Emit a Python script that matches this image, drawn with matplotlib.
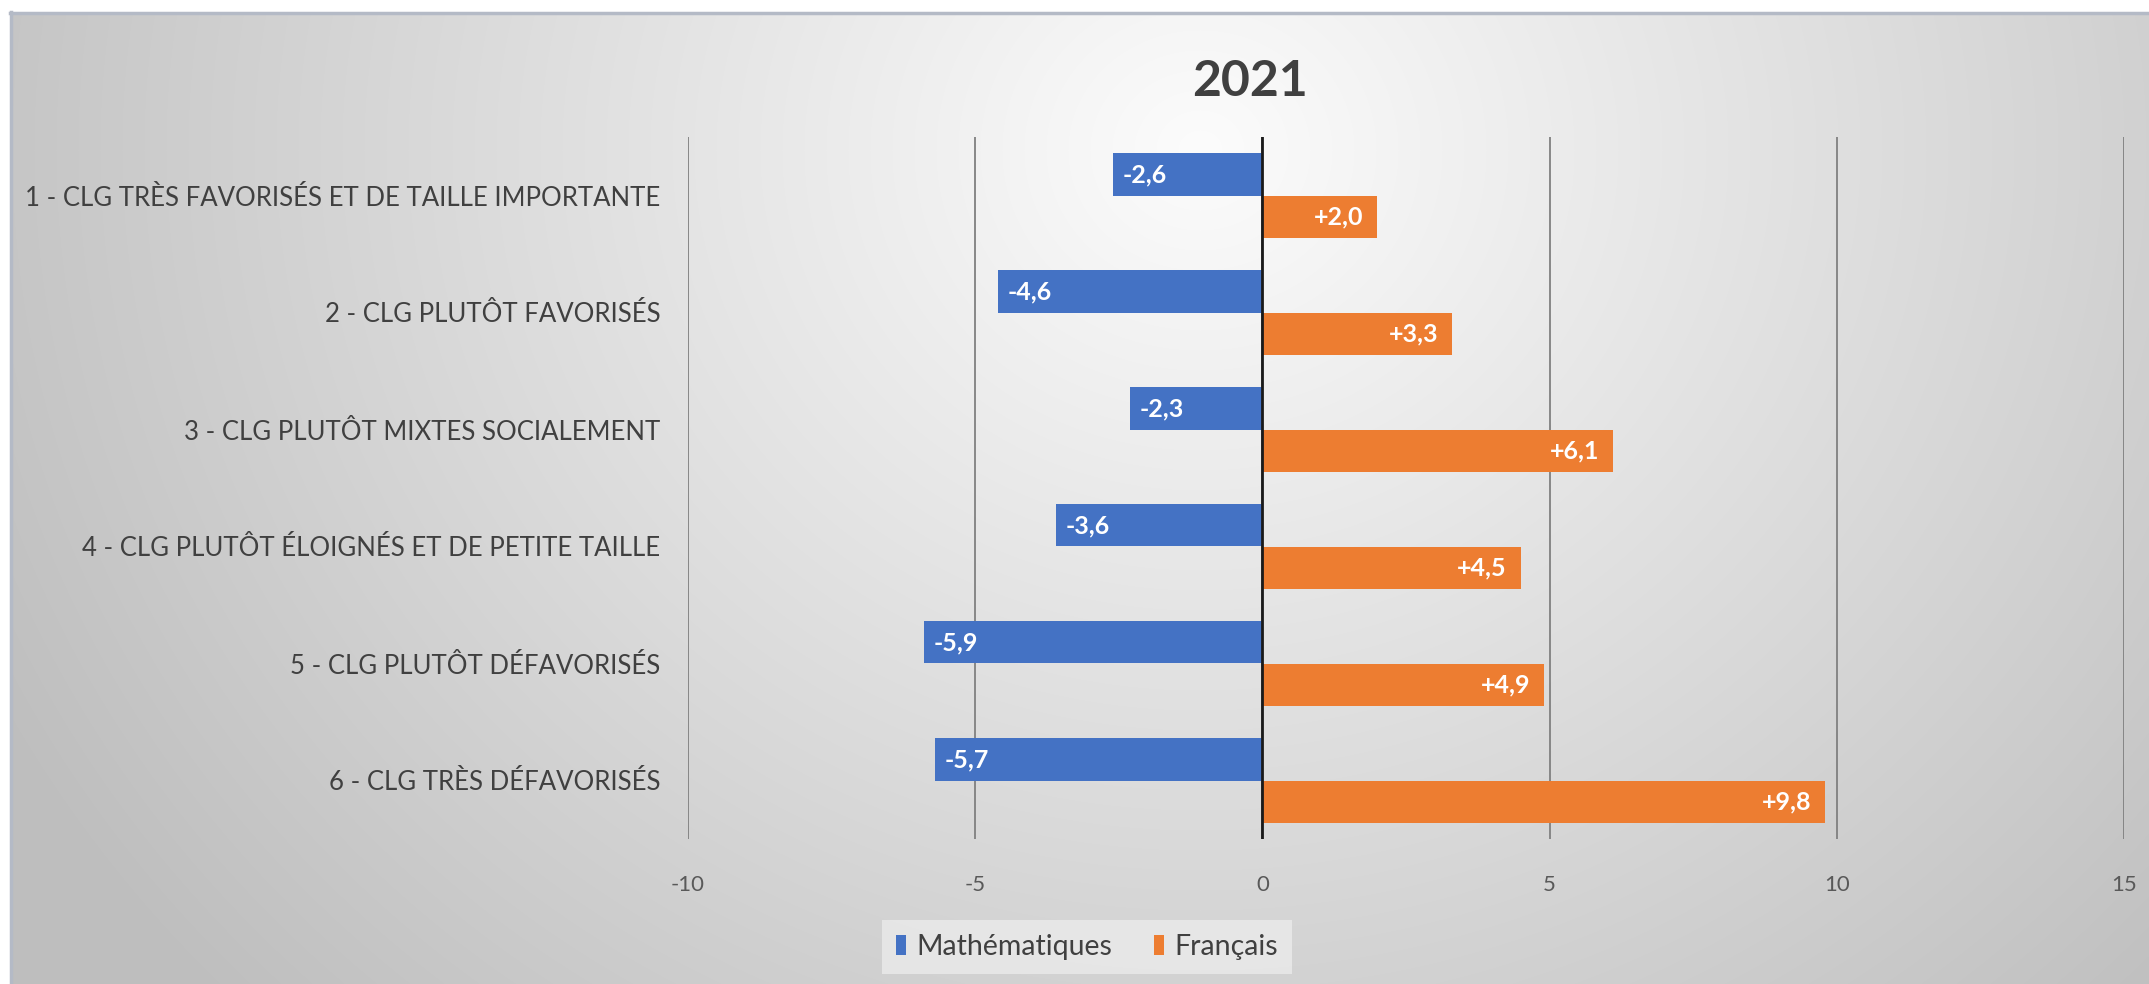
import numpy as np
import matplotlib
matplotlib.use("Agg")
import matplotlib.pyplot as plt
from matplotlib.patches import Patch

# ---- data ----
categories = [
    "1 - CLG TRÈS FAVORISÉS ET DE TAILLE IMPORTANTE",
    "2 - CLG PLUTÔT FAVORISÉS",
    "3 - CLG PLUTÔT MIXTES SOCIALEMENT",
    "4 - CLG PLUTÔT ÉLOIGNÉS ET DE PETITE TAILLE",
    "5 - CLG PLUTÔT DÉFAVORISÉS",
    "6 - CLG TRÈS DÉFAVORISÉS",
]
maths = [-2.6, -4.6, -2.3, -3.6, -5.9, -5.7]
francais = [2.0, 3.3, 6.1, 4.5, 4.9, 9.8]
xticks = [-10, -5, 0, 5, 10, 15]
series_names = ["Mathématiques", "Français"]
title = "2021"

plt.rcParams["font.family"] = ["Lato", "DejaVu Sans"]

W, H = 2149, 984
fig = plt.figure(figsize=(W / 100, H / 100), dpi=100)

# ---- background gradient ----
bg = fig.add_axes([0, 0, 1, 1], zorder=-10)
yy, xx = np.mgrid[0:H, 0:W]
d = np.sqrt(((xx - 1200) / 1100.0) ** 2 + ((yy - 150) / 1000.0) ** 2)
v = np.clip(252 - 50 * d, 190, 252) / 255.0
img = np.dstack([v, v, v])
img[:12, :, :] = 1.0
img[:, :10, :] = 1.0
bg.imshow(img, extent=[0, W, H, 0], aspect="auto", interpolation="bilinear")
bg.plot([10, W], [12.5, 12.5], color="#b4bac6", lw=2.5)
bg.plot([10.5, 10.5], [12, H], color="#b4bac6", lw=2.5)
bg.set_xlim(0, W)
bg.set_ylim(H, 0)
bg.axis("off")

# ---- main axes ----
L, R, T, B = 688, 2124, 137, 839
ax = fig.add_axes([L / W, 1 - B / H, (R - L) / W, (B - T) / H])
ax.patch.set_alpha(0)

blue = "#4472C4"
orange = "#ED7D31"
y = np.arange(len(categories))
bh = 0.36
ax.barh(y - bh / 2, maths, height=bh, color=blue, zorder=3)
ax.barh(y + bh / 2, francais, height=bh, color=orange, zorder=3)

ax.set_xlim(xticks[0], xticks[-1])
ax.set_ylim(len(categories) - 0.5, -0.5)
ax.set_xticks(xticks)
ax.set_xticklabels([str(t) for t in xticks], fontsize=16, color="#595959")
ax.set_yticks(y)
ax.set_yticklabels(categories, fontsize=18.5, color="#404040")
ax.tick_params(axis="x", length=0, pad=26)
ax.tick_params(axis="y", length=0, pad=20)
for s in ax.spines.values():
    s.set_visible(False)
ax.grid(axis="x", color="#808080", lw=1.3, zorder=1)
ax.axvline(0, color="#1a1a1a", lw=2, zorder=4)

def fmt(val):
    return f"{val:+.1f}".replace(".", ",")

for i, val in enumerate(maths):
    ax.annotate(fmt(val), (val, i - bh / 2), xytext=(7, 0), textcoords="offset points",
                ha="left", va="center", color="white", fontsize=18, fontweight="bold", zorder=5)
for i, val in enumerate(francais):
    ax.annotate(fmt(val), (val, i + bh / 2), xytext=(-10, 0), textcoords="offset points",
                ha="right", va="center", color="white", fontsize=18, fontweight="bold", zorder=5)

fig.text(1250 / W, 1 - 81 / H, title, ha="center", va="center", fontsize=36,
         fontweight="bold", color="#404040")

handles = [Patch(facecolor=blue, edgecolor="none"), Patch(facecolor=orange, edgecolor="none")]
leg = fig.legend(handles, series_names, loc="center", bbox_to_anchor=(1087 / W, 1 - 947 / H),
                 ncol=2, fontsize=20.5, frameon=True, facecolor="#ebebeb", edgecolor="none",
                 framealpha=0.8, handlelength=0.35, handleheight=0.7, handletextpad=0.35,
                 columnspacing=1.5, borderpad=0.5, fancybox=False)
for t in leg.get_texts():
    t.set_color("#404040")

fig.savefig("out.png", dpi=100)
